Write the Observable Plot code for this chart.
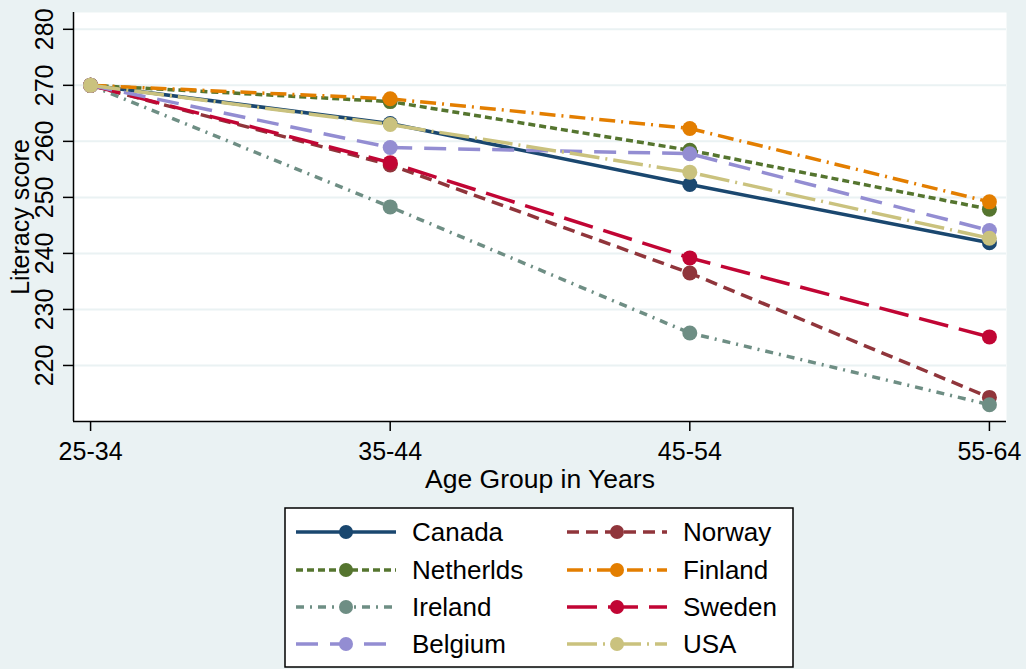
<!DOCTYPE html>
<html><head><meta charset="utf-8">
<script src="https://cdn.jsdelivr.net/npm/d3@7"></script>
<script src="https://cdn.jsdelivr.net/npm/@observablehq/plot@0.6"></script>
<style>
html,body{margin:0;padding:0;background:#eaf2f3;width:1026px;height:669px;overflow:hidden;font-family:"Liberation Sans",Arial,sans-serif;}
#chart svg,#legend svg{display:block;}
</style></head><body>
<div id="chart"></div><div id="legend"></div>
<script>
// ---- data ----
const ageGroups = ["25-34", "35-44", "45-54", "55-64"];
const countries = ["Canada", "Norway", "Netherlds", "Finland", "Ireland", "Sweden", "Belgium", "USA"];
const canada      = [270, 263.2, 252.3, 241.9];
const norway      = [270, 255.8, 236.5, 214.3];
const netherlands = [270, 267.1, 258.4, 247.9];
const finland     = [270, 267.6, 262.3, 249.2];
const ireland     = [270, 248.3, 225.8, 213.0];
const sweden      = [270, 256.2, 239.2, 225.1];
const belgium     = [270, 258.9, 257.8, 244.1];
const usa         = [270, 263.0, 254.5, 242.7];
const yTicks = [220, 230, 240, 250, 260, 270, 280];

// ---- styles ----
const seriesValues = [canada, norway, netherlands, finland, ireland, sweden, belgium, usa];
const colors = ["#1a476f", "#90353b", "#55752f", "#e37e00", "#6e8e84", "#c10534", "#938dd2", "#cac27e"];
const dashes = [null, "12,7", "7,4", "16,6,2,6", "8,6,2,6", "30,11", "22,12", "30,6,2,6"];

const series = countries.map((name, i) => ({
  name, color: colors[i], dash: dashes[i],
  points: seriesValues[i].map((v, j) => ({country: name, x: j, y: v}))
}));

const xDomain = [-0.057, 3.057];
const yDomain = [210, 283];

const marks = [
  Plot.frame({fill: "white", stroke: "none"}),
  Plot.gridY(yTicks, {stroke: "#eaf2f3", strokeOpacity: 1, strokeWidth: 2}),
  Plot.axisY(yTicks, {
    tickSize: 10, tickPadding: 11, tickRotate: -90, fontSize: 25,
    stroke: "black", strokeWidth: 1.5,
    label: "Literacy score", labelAnchor: "center", labelArrow: "none", labelOffset: 62
  }),
  Plot.axisX([0, 1, 2, 3], {
    tickFormat: i => ageGroups[i], tickSize: 10, tickPadding: 11, fontSize: 25,
    stroke: "black", strokeWidth: 1.5, label: null
  }),
  Plot.text(["Age Group in Years"], {frameAnchor: "bottom", dy: 66, lineAnchor: "bottom", fontSize: 26.5, fill: "black"}),
  Plot.ruleX([xDomain[0]], {stroke: "black", strokeWidth: 1.5}),
  Plot.ruleY([yDomain[0]], {stroke: "black", strokeWidth: 1.5})
];
for (const s of series) {
  marks.push(Plot.line(s.points, {x: "x", y: "y", stroke: s.color, strokeWidth: 3.5,
    strokeDasharray: s.dash || undefined, strokeLinecap: "butt"}));
  marks.push(Plot.dot(s.points, {x: "x", y: "y", r: 7.5, fill: s.color, stroke: "none"}));
}

const chart = Plot.plot({
  width: 1026, height: 500,
  marginLeft: 73, marginRight: 20, marginTop: 12, marginBottom: 79,
  style: {background: "transparent", fontSize: "25px", fontFamily: '"Liberation Sans", Arial, sans-serif', color: "black"},
  x: {type: "linear", domain: xDomain},
  y: {domain: yDomain},
  marks
});
document.getElementById("chart").appendChild(chart);

// ---- legend ----
const lg = d3.select("#legend").append("svg").attr("width", 1026).attr("height", 169);
lg.append("rect").attr("x", 285).attr("y", 8).attr("width", 508).attr("height", 159)
  .attr("fill", "white").attr("stroke", "black").attr("stroke-width", 1.5);
const colX = [296, 567], rowY = [32, 70, 107, 144];
series.forEach((s, i) => {
  const cx = colX[i % 2], cy = rowY[Math.floor(i / 2)];
  const g = lg.append("g");
  g.append("line").attr("x1", cx).attr("x2", cx + 100).attr("y1", cy).attr("y2", cy)
    .attr("stroke", s.color).attr("stroke-width", 3.5)
    .attr("stroke-dasharray", s.dash || null);
  g.append("circle").attr("cx", cx + 50).attr("cy", cy).attr("r", 7).attr("fill", s.color);
  g.append("text").attr("x", cx + 116).attr("y", cy).attr("dy", "0.36em")
    .attr("font-size", 26).attr("fill", "black").text(s.name);
});
</script></body></html>
